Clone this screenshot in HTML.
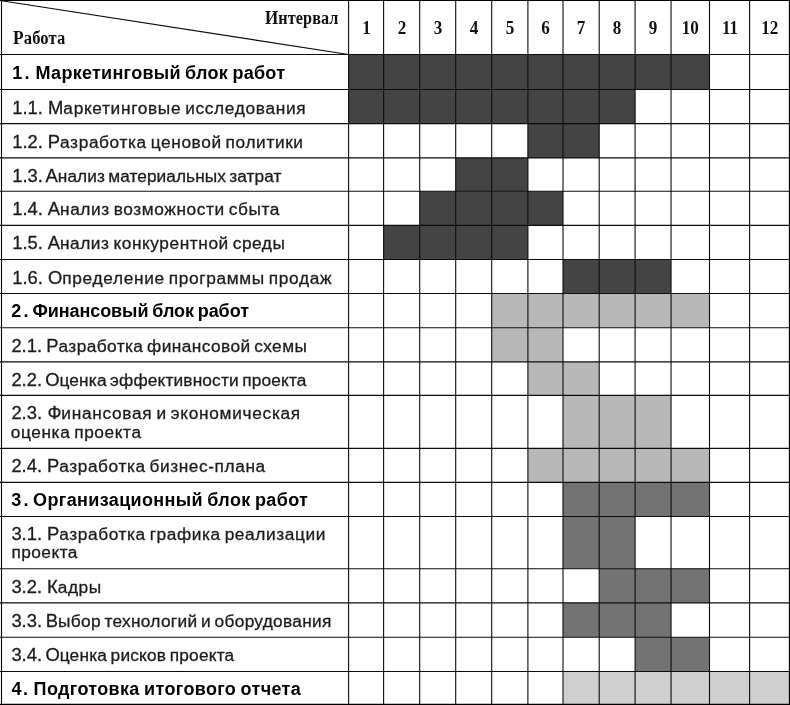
<!DOCTYPE html>
<html lang="ru"><head><meta charset="utf-8"><title>График работ</title>
<style>
html,body{margin:0;padding:0;background:#fff}
body{width:790px;height:705px;position:relative;overflow:hidden;font-family:"Liberation Sans",Arial,sans-serif;color:#1c1c1c}
svg{position:absolute;left:0;top:0}
.t{position:absolute;white-space:nowrap;font-size:17.3px;line-height:20px;transform-origin:0 0;word-spacing:-1.5px;-webkit-text-stroke:0.3px #1c1c1c}
.b{font-weight:bold;color:#000;font-size:18px;word-spacing:-1px;-webkit-text-stroke:0}
.h{position:absolute;font-family:"Liberation Serif","Times New Roman",serif;font-weight:bold;font-size:18px;line-height:20px;color:#111;white-space:nowrap;transform-origin:0 0}
.k{font-size:18.4px;line-height:10px;letter-spacing:0}
.c{font-size:18.9px;line-height:10px}
.n{text-align:center;transform-origin:50% 0;transform:scaleX(.95);font-size:18px}
</style></head><body>
<svg width="790" height="705" viewBox="0 0 790 705">
<rect x="348.6" y="54.45" width="360.9" height="35.0" fill="#444"/>
<rect x="348.6" y="89.45" width="286.5" height="34.1" fill="#444"/>
<rect x="527.9" y="123.6" width="71.3" height="34.3" fill="#444"/>
<rect x="455.7" y="157.9" width="72.2" height="33.4" fill="#444"/>
<rect x="419.7" y="191.3" width="143.3" height="34.1" fill="#444"/>
<rect x="383.6" y="225.4" width="144.3" height="34.1" fill="#444"/>
<rect x="563.0" y="259.5" width="108.0" height="34.0" fill="#444"/>
<rect x="491.7" y="293.5" width="217.8" height="34.2" fill="#b8b8b8"/>
<rect x="491.7" y="327.7" width="71.3" height="34.2" fill="#b8b8b8"/>
<rect x="527.9" y="361.9" width="71.3" height="33.5" fill="#b8b8b8"/>
<rect x="563.0" y="395.4" width="108.0" height="53.0" fill="#b8b8b8"/>
<rect x="527.9" y="448.4" width="181.6" height="34.0" fill="#b8b8b8"/>
<rect x="563.0" y="482.4" width="146.5" height="34.1" fill="#737373"/>
<rect x="563.0" y="516.5" width="72.1" height="52.2" fill="#737373"/>
<rect x="599.2" y="568.7" width="110.3" height="34.2" fill="#737373"/>
<rect x="563.0" y="602.9" width="108.0" height="34.3" fill="#737373"/>
<rect x="635.1" y="637.2" width="74.4" height="34.3" fill="#737373"/>
<rect x="563.0" y="671.5" width="226.3" height="33.1" fill="#cfcfcf"/>
<g stroke="#0c0c0c" stroke-width="1.1" fill="none">
<line x1="0" y1="54.45" x2="790" y2="54.45"/>
<line x1="0" y1="89.45" x2="790" y2="89.45"/>
<line x1="0" y1="123.6" x2="790" y2="123.6"/>
<line x1="0" y1="157.9" x2="790" y2="157.9"/>
<line x1="0" y1="191.3" x2="790" y2="191.3"/>
<line x1="0" y1="225.4" x2="790" y2="225.4"/>
<line x1="0" y1="259.5" x2="790" y2="259.5"/>
<line x1="0" y1="293.5" x2="790" y2="293.5"/>
<line x1="0" y1="327.7" x2="790" y2="327.7"/>
<line x1="0" y1="361.9" x2="790" y2="361.9"/>
<line x1="0" y1="395.4" x2="790" y2="395.4"/>
<line x1="0" y1="448.4" x2="790" y2="448.4"/>
<line x1="0" y1="482.4" x2="790" y2="482.4"/>
<line x1="0" y1="516.5" x2="790" y2="516.5"/>
<line x1="0" y1="568.7" x2="790" y2="568.7"/>
<line x1="0" y1="602.9" x2="790" y2="602.9"/>
<line x1="0" y1="637.2" x2="790" y2="637.2"/>
<line x1="0" y1="671.5" x2="790" y2="671.5"/>
<line x1="348.6" y1="0" x2="348.6" y2="705"/>
<line x1="383.6" y1="0" x2="383.6" y2="705"/>
<line x1="419.7" y1="0" x2="419.7" y2="705"/>
<line x1="455.7" y1="0" x2="455.7" y2="705"/>
<line x1="491.7" y1="0" x2="491.7" y2="705"/>
<line x1="527.9" y1="0" x2="527.9" y2="705"/>
<line x1="563.0" y1="0" x2="563.0" y2="705"/>
<line x1="599.2" y1="0" x2="599.2" y2="705"/>
<line x1="635.1" y1="0" x2="635.1" y2="705"/>
<line x1="671.05" y1="0" x2="671.05" y2="705"/>
<line x1="709.5" y1="0" x2="709.5" y2="705"/>
<line x1="749.6" y1="0" x2="749.6" y2="705"/>
<line x1="1.5" y1="0.8" x2="348.6" y2="54.45"/>
</g>
<g stroke="#000" fill="none"><line x1="0" y1="0.5" x2="790" y2="0.5" stroke-width="1.1"/><line x1="0" y1="704.45" x2="790" y2="704.45" stroke-width="1.25"/><line x1="1.5" y1="0" x2="1.5" y2="705" stroke-width="1.1"/><line x1="789.45" y1="0" x2="789.45" y2="705" stroke-width="1.15"/></g>
</svg>
<div class="h" id="hI" style="left:264.70px;top:8.30px;letter-spacing:0.095px;transform:scaleX(0.9000)"><span class="c">И</span>нтервал</div>
<div class="h" id="hR" style="left:12.70px;top:28.35px;letter-spacing:0.131px;transform:scaleX(0.9200)"><span class="c">Р</span>абота</div>
<div class="h n" style="left:348.6px;width:35.0px;top:17.9px">1</div>
<div class="h n" style="left:383.6px;width:36.1px;top:17.9px">2</div>
<div class="h n" style="left:419.7px;width:36.0px;top:17.9px">3</div>
<div class="h n" style="left:455.7px;width:36.0px;top:17.9px">4</div>
<div class="h n" style="left:491.7px;width:36.2px;top:17.9px">5</div>
<div class="h n" style="left:527.9px;width:35.1px;top:17.9px">6</div>
<div class="h n" style="left:563.0px;width:36.2px;top:17.9px">7</div>
<div class="h n" style="left:599.2px;width:35.9px;top:17.9px">8</div>
<div class="h n" style="left:635.1px;width:35.9px;top:17.9px">9</div>
<div class="h n" style="left:671.05px;width:38.5px;top:17.9px">10</div>
<div class="h n" style="left:709.5px;width:40.1px;top:17.9px">11</div>
<div class="h n" style="left:749.6px;width:39.7px;top:17.9px">12</div>
<div class="t b" id="r0_0" style="left:12.20px;top:62.76px;letter-spacing:0.285px;transform:scaleX(1.0000)"><span style="margin-right:1.5px"><span style="letter-spacing:2.3px">1</span>.</span> Маркетинговый блок работ</div>
<div class="t" id="r1_0" style="left:12.20px;top:98.01px;letter-spacing:0.666px;transform:scaleX(1.0000)"><span class="k" style="word-spacing:0.06px">1.1. М</span>аркетинговые исследования</div>
<div class="t" id="r2_0" style="left:12.20px;top:132.01px;letter-spacing:0.613px;transform:scaleX(1.0000)"><span class="k" style="word-spacing:-0.15px">1.2. Р</span>азработка ценовой политики</div>
<div class="t" id="r3_0" style="left:12.20px;top:166.01px;letter-spacing:0.053px;transform:scaleX(1.0000)"><span class="k" style="word-spacing:-2.39px">1.3. А</span>нализ материальных затрат</div>
<div class="t" id="r4_0" style="left:12.20px;top:199.01px;letter-spacing:0.594px;transform:scaleX(1.0000)"><span class="k" style="word-spacing:-0.22px">1.4. А</span>нализ возможности сбыта</div>
<div class="t" id="r5_0" style="left:12.20px;top:233.01px;letter-spacing:0.566px;transform:scaleX(1.0000)"><span class="k" style="word-spacing:-0.34px">1.5. А</span>нализ конкурентной среды</div>
<div class="t" id="r6_0" style="left:12.20px;top:268.01px;letter-spacing:0.657px;transform:scaleX(1.0000)"><span class="k" style="word-spacing:0.03px">1.6. О</span>пределение программы продаж</div>
<div class="t b" id="r7_0" style="left:11.20px;top:300.76px;letter-spacing:-0.079px;transform:scaleX(1.0000)"><span style="margin-right:0.0px"><span style="letter-spacing:2.4px">2</span>.</span> Финансовый блок работ</div>
<div class="t" id="r8_0" style="left:11.40px;top:336.01px;letter-spacing:0.413px;transform:scaleX(1.0000)"><span class="k" style="word-spacing:-0.95px">2.1. Р</span>азработка финансовой схемы</div>
<div class="t" id="r9_0" style="left:11.40px;top:370.01px;letter-spacing:0.149px;transform:scaleX(1.0000)"><span class="k" style="word-spacing:-2.00px">2.2. О</span>ценка эффективности проекта</div>
<div class="t" id="r10_0" style="left:11.40px;top:403.01px;letter-spacing:0.700px;transform:scaleX(1.0000)"><span class="k" style="word-spacing:0.20px">2.3. Ф</span>инансовая и экономическая</div>
<div class="t" id="r10_1" style="left:10.80px;top:422.01px;letter-spacing:0.585px;transform:scaleX(1.0000)">оценка проекта</div>
<div class="t" id="r11_0" style="left:11.40px;top:456.01px;letter-spacing:0.585px;transform:scaleX(1.0000)"><span class="k" style="word-spacing:-0.26px">2.4. Р</span>азработка бизнес-плана</div>
<div class="t b" id="r12_0" style="left:11.20px;top:489.76px;letter-spacing:0.358px;transform:scaleX(1.0000)"><span style="margin-right:0.0px"><span style="letter-spacing:2.2px">3</span>.</span> Организационный блок работ</div>
<div class="t" id="r13_0" style="left:11.40px;top:524.01px;letter-spacing:0.594px;transform:scaleX(1.0000)"><span class="k" style="word-spacing:-0.22px">3.1. Р</span>азработка графика реализации</div>
<div class="t" id="r13_1" style="left:11.40px;top:542.01px;letter-spacing:0.467px;transform:scaleX(1.0000)">проекта</div>
<div class="t" id="r14_0" style="left:11.40px;top:577.01px;letter-spacing:0.599px;transform:scaleX(1.0000)"><span class="k" style="word-spacing:-0.20px">3.2. К</span>адры</div>
<div class="t" id="r15_0" style="left:11.40px;top:611.01px;letter-spacing:0.308px;transform:scaleX(1.0000)"><span class="k" style="word-spacing:-1.37px">3.3. В</span>ыбор технологий и оборудования</div>
<div class="t" id="r16_0" style="left:11.40px;top:645.01px;letter-spacing:0.200px;transform:scaleX(1.0000)"><span class="k" style="word-spacing:-1.80px">3.4. О</span>ценка рисков проекта</div>
<div class="t b" id="r17_0" style="left:11.60px;top:678.76px;letter-spacing:0.352px;transform:scaleX(1.0000)"><span style="margin-right:0.8px"><span style="letter-spacing:1.5px">4</span>.</span> Подготовка итогового отчета</div>
</body></html>
